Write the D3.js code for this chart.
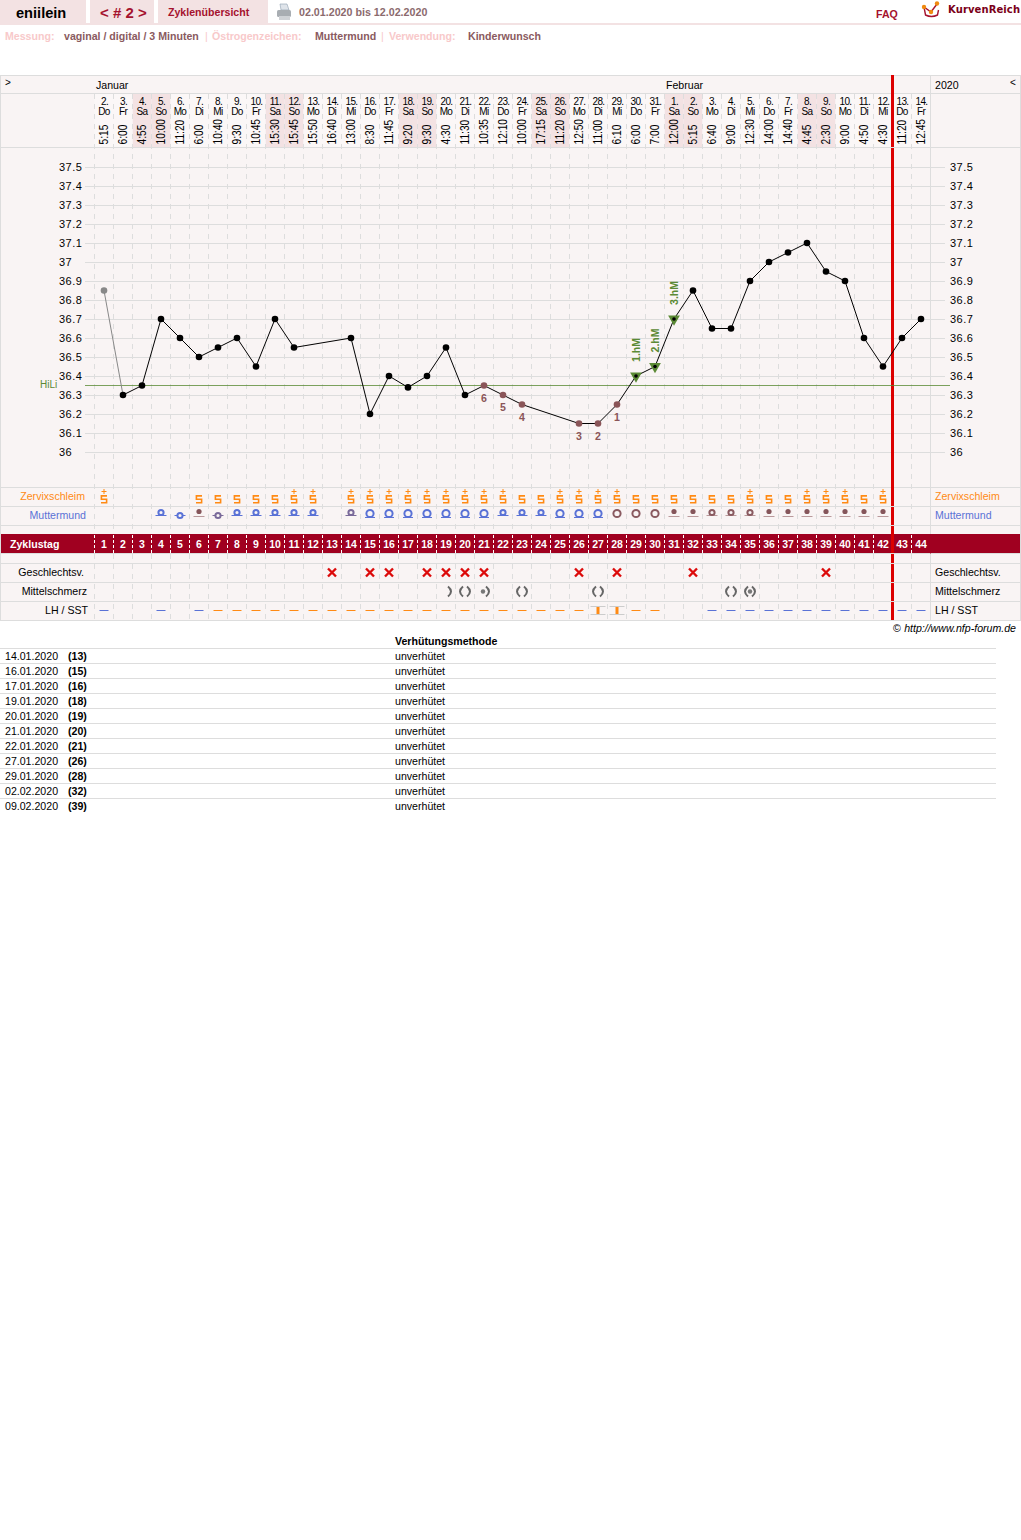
<!DOCTYPE html>
<html><head><meta charset="utf-8">
<script src="https://cdn.jsdelivr.net/npm/d3@7/dist/d3.min.js"></script>
<style>html,body{margin:0;padding:0;background:#fff}svg{display:block}text{font-family:"Liberation Sans",Arial,sans-serif}</style>
</head><body><div id="c"></div>
<script>
const cycleDays=d3.range(1,45);
const dateLabels=["2.","3.","4.","5.","6.","7.","8.","9.","10.","11.","12.","13.","14.","15.","16.","17.","18.","19.","20.","21.","22.","23.","24.","25.","26.","27.","28.","29.","30.","31.","1.","2.","3.","4.","5.","6.","7.","8.","9.","10.","11.","12.","13.","14."];
const weekdays=["Do","Fr","Sa","So","Mo","Di","Mi","Do","Fr","Sa","So","Mo","Di","Mi","Do","Fr","Sa","So","Mo","Di","Mi","Do","Fr","Sa","So","Mo","Di","Mi","Do","Fr","Sa","So","Mo","Di","Mi","Do","Fr","Sa","So","Mo","Di","Mi","Do","Fr"];
const times=["5:15","6:00","4:55","10:00","11:20","6:00","10:40","9:30","10:45","15:30","15:45","15:50","16:40","13:00","8:30","11:45","9:20","9:30","4:30","11:30","10:35","12:10","10:00","17:15","11:20","12:50","11:00","6:10","6:00","7:00","12:00","5:15","6:40","9:00","12:30","14:00","14:40","4:45","2:30","9:00","4:50","4:30","11:20","12:45"];
const temps=[36.85,36.3,36.35,36.7,36.6,36.5,36.55,36.6,36.45,36.7,36.55,null,null,36.6,36.2,36.4,36.34,36.4,36.55,36.3,36.35,36.3,36.25,null,null,36.15,36.15,36.25,36.4,36.45,36.7,36.85,36.65,36.65,36.9,37,37.05,37.1,36.95,36.9,36.6,36.45,36.6,36.7];
const tempTicks=[36,36.1,36.2,36.3,36.4,36.5,36.6,36.7,36.8,36.9,37,37.1,37.2,37.3,37.4,37.5];
const coverLine=36.35;
const lowDays=[[28,"1"],[27,"2"],[26,"3"],[23,"4"],[22,"5"],[21,"6"]];
const riseDays=[[29,"1.hM"],[30,"2.hM"],[31,"3.hM"]];
const mucusPlain=[6,7,8,9,10,23,24,29,30,31,32,33,34,36,37,41];
const mucusPlus=[1,11,12,14,15,16,17,18,19,20,21,22,25,26,27,28,35,38,39,40,42];
const cervixCodes=["","","","sB","cB","d","cM","sB","sB","sB","sB","sB","","sM","lB","lB","lB","lB","lB","lB","lB","sB","sB","sB","lB","lB","lB","lR","lR","lR","d","d","sR","sR","sR","d","d","d","d","d","d","d","",""];
const intercourse=[13,15,16,18,19,20,21,26,28,32,39];
const painCodes={19:"r",20:"b",21:"dr",23:"b",27:"b",34:"b",35:"db"};
const lhBlue=[1,4,6,33,34,35,36,37,38,39,40,41,42,43,44];
const lhOrange=[7,8,9,10,11,12,13,14,15,16,17,18,19,20,21,22,23,24,25,26,29,30];
const sstDays=[27,28];
const tableDates=["14.01.2020","16.01.2020","17.01.2020","19.01.2020","20.01.2020","21.01.2020","22.01.2020","27.01.2020","29.01.2020","02.02.2020","09.02.2020"];
const tableCycleDays=[13,15,16,18,19,20,21,26,28,32,39];
const tableMethod="unverhütet";

const W=1021,H=1540,FS=10.6;
const svg=d3.select("#c").append("svg").attr("width",W).attr("height",H);
const x=d3.scaleLinear().domain([1,44]).range([104,921]);
const y=d3.scaleLinear().domain([36,37.5]).range([452,167]);
const border="#ddd",bg="#f9f4f4",band="#a00020",pink="#f3e2e3";
const red="#a5122e",brown="#8a5a60",lite="#f8c9ca",orange="#ff8a14",blue="#5a72d6",green="#5b8a35",crim="#dc0a0a";
function T(g,s,xx,yy,o={}){return g.append("text").attr("x",xx).attr("y",yy).text(s)
 .attr("font-size",o.size||FS).attr("font-weight",o.bold?"bold":null).attr("fill",o.fill||"#000")
 .attr("text-anchor",o.anchor||"start").attr("font-style",o.italic?"italic":null).attr("letter-spacing",o.ls||null);}

/* page header */
const hd=svg.append("g");
hd.append("rect").attr("x",0).attr("y",0).attr("width",86).attr("height",23).attr("fill",pink);
hd.append("rect").attr("x",90).attr("y",0).attr("width",64).attr("height",23).attr("fill",pink);
hd.append("rect").attr("x",158).attr("y",0).attr("width",110).attr("height",23).attr("fill",pink);
hd.append("rect").attr("x",0).attr("y",23).attr("width",W).attr("height",2).attr("fill",pink);
T(hd,"eniilein",16,18,{size:14.6,bold:true});
T(hd,"< # 2 >",100,18,{size:15,bold:true,fill:red});
T(hd,"Zyklenübersicht",168,16,{bold:true,fill:red});
T(hd,"02.01.2020 bis 12.02.2020",299,16,{size:10.7,bold:true,fill:"#8b6a6e"});
T(hd,"FAQ",876,18,{bold:true,fill:red});
T(hd,"KurvenReich",948,13,{size:10,bold:true,fill:"#7a0018"}).style("font-family","'DejaVu Sans',sans-serif").attr("textLength",72);
const pr=hd.append("g").attr("transform","translate(277,4)");
pr.append("path").attr("d","M3 0h7l2 6h-8z").attr("fill","#dfe4ea").attr("stroke","#8fa0b0").attr("stroke-width",.6);
pr.append("rect").attr("x",0).attr("y",6).attr("width",14).attr("height",7).attr("rx",1.5).attr("fill","#a8adb2");
pr.append("rect").attr("x",2).attr("y",12).attr("width",11).attr("height",4).attr("fill","#cfd2d6");
const lg=hd.append("g").attr("transform","translate(921,0)");
lg.append("path").attr("d","M3 7l1.5 8q6 3 12 0l1-5").attr("fill","none").attr("stroke","#a5122e").attr("stroke-width",1.4);
lg.append("path").attr("d","M3 7l7 5 6-8").attr("fill","none").attr("stroke","#a5122e").attr("stroke-width",1.4);
lg.append("circle").attr("cx",3).attr("cy",7).attr("r",2.2).attr("fill","#f08a10");
lg.append("circle").attr("cx",10).attr("cy",12).attr("r",2.2).attr("fill","#f08a10");
lg.append("circle").attr("cx",16).attr("cy",3.5).attr("r",2.2).attr("fill","#f08a10");

T(hd,"Messung:",5,40,{bold:true,fill:lite});
T(hd,"vaginal / digital / 3 Minuten",64,40,{bold:true,fill:brown});
T(hd,"|",205,40,{fill:lite});
T(hd,"Östrogenzeichen:",212,40,{bold:true,fill:lite});
T(hd,"Muttermund",315,40,{bold:true,fill:brown});
T(hd,"|",381,40,{fill:lite});
T(hd,"Verwendung:",389,40,{bold:true,fill:lite});
T(hd,"Kinderwunsch",468,40,{bold:true,fill:brown});

/* chart background */
const bgG=svg.append("g");
bgG.append("rect").attr("x",0.5).attr("y",75.5).attr("width",W-1).attr("height",545).attr("fill",bg).attr("stroke",border);
bgG.selectAll("rect.we").data(cycleDays.filter((d,i)=>weekdays[i]==="Sa"||weekdays[i]==="So")).join("rect")
 .attr("class","we").attr("x",d=>x(d)-9.5).attr("y",94).attr("width",x(2)-x(1)).attr("height",53).attr("fill",pink);
bgG.selectAll("rect.wd").data(cycleDays.filter((d,i)=>weekdays[i]!=="Sa"&&weekdays[i]!=="So")).join("rect")
 .attr("class","wd").attr("x",d=>x(d)-9.5).attr("y",94).attr("width",x(2)-x(1)).attr("height",53).attr("fill","#fbf7f7");

/* vertical dashed day lines */
const vs=d3.range(0,44);
bgG.selectAll("line.vd").data(vs).join("line").attr("class","vd")
 .attr("x1",d=>x(d+1)-9.5).attr("x2",d=>x(d+1)-9.5).attr("y1",94).attr("y2",620)
 .attr("stroke",border).attr("stroke-dasharray","5,5");

/* temperature axes with gridlines */
const axL=svg.append("g").attr("transform","translate(85,0)")
 .call(d3.axisLeft(y).tickValues(tempTicks).tickFormat(d3.format("~g")).tickSize(-860));
axL.select(".domain").remove();
axL.selectAll("line").attr("stroke",border);
axL.selectAll("text").attr("text-anchor","start").attr("x",-26).attr("font-size",11).attr("letter-spacing","0.5").attr("fill","#000").style("font-family",'"Liberation Sans",Arial,sans-serif');
const axR=svg.append("g").attr("transform","translate(950,0)")
 .call(d3.axisRight(y).tickValues(tempTicks).tickFormat(d3.format("~g")).tickSize(0).tickPadding(0));
axR.select(".domain").remove();
axR.selectAll("text").attr("font-size",11).attr("letter-spacing","0.5").attr("fill","#000").style("font-family",'"Liberation Sans",Arial,sans-serif');

/* cycle-day band */
const bd=svg.append("g");
bd.append("rect").attr("x",1).attr("y",534).attr("width",W-2).attr("height",19.5).attr("fill",band);
bd.selectAll("line").data(vs).join("line").attr("x1",d=>x(d+1)-9.5).attr("x2",d=>x(d+1)-9.5).attr("y1",534).attr("y2",553)
 .attr("stroke","#fff").attr("stroke-dasharray","3,2").attr("stroke-dashoffset",-1);
T(bd,"Zyklustag",10,548,{bold:true,fill:"#fff"});
bd.selectAll("text.n").data(cycleDays).join("text").attr("class","n").attr("x",d=>x(d)).attr("y",548).attr("text-anchor","middle")
 .attr("font-size",10.5).attr("font-weight","bold").attr("fill","#fff").text(d=>d);

/* today marker */
svg.append("line").attr("x1",x(43)-9.5).attr("x2",x(43)-9.5).attr("y1",75).attr("y2",620.5).attr("stroke","#dc0000").attr("stroke-width",3);

/* row borders */
const rowY=[75.5,93.5,147.5,487.5,506.5,525.5,553.5,563.5,582.5,601.5,620.5];
svg.append("g").selectAll("line").data(rowY).join("line").attr("x1",0).attr("x2",W).attr("y1",d=>d).attr("y2",d=>d).attr("stroke",border);
svg.append("line").attr("x1",930.5).attr("x2",930.5).attr("y1",75).attr("y2",621).attr("stroke",border);
svg.append("line").attr("x1",930.5).attr("x2",930.5).attr("y1",534).attr("y2",553.5).attr("stroke",band);
svg.append("rect").attr("x",x(43)-11).attr("y",75).attr("width",3).attr("height",19).attr("fill","#dc0000");
svg.append("rect").attr("x",x(43)-11).attr("y",148).attr("width",3).attr("height",340).attr("fill","#dc0000");

/* header cells text */
const hc=svg.append("g");
T(hc,">",5,86,{size:10});
T(hc,"Januar",96,89);
T(hc,"Februar",666,89);
T(hc,"2020",935,89);
T(hc,"<",1010,86,{size:10});
hc.selectAll("text.dl").data(cycleDays).join("text").attr("class","dl").attr("x",d=>x(d)+.5).attr("y",105).attr("text-anchor","middle")
 .attr("font-size",10).attr("letter-spacing","-0.6").text((d,i)=>dateLabels[i]);
hc.selectAll("text.wk").data(cycleDays).join("text").attr("class","wk").attr("x",d=>x(d)).attr("y",115).attr("text-anchor","middle")
 .attr("font-size",10).attr("letter-spacing","-0.6").text((d,i)=>weekdays[i]);
hc.selectAll("text.tm").data(cycleDays).join("text").attr("class","tm").attr("transform",d=>`translate(${x(d)+4},144.5) rotate(-90) scale(0.85,1)`)
 .attr("font-size",12).text((d,i)=>times[i]);

/* cover line */
const pl=svg.append("g");
pl.append("line").attr("x1",85).attr("x2",950).attr("y1",Math.round(y(coverLine))+.5).attr("y2",Math.round(y(coverLine))+.5).attr("stroke",green).attr("stroke-width",.8);
T(pl,"HiLi",40,388,{size:10,fill:green});

/* curve */
const pts=cycleDays.map((d,i)=>({d,t:temps[i]})).filter(p=>p.t!==null);
const lineGen=d3.line().x(p=>x(p.d)).y(p=>y(p.t));
pl.append("path").attr("d",lineGen(pts.slice(0,2))).attr("fill","none").attr("stroke","#888").attr("stroke-width",1);
pl.append("path").attr("d",lineGen(pts.slice(1))).attr("fill","none").attr("stroke","#000").attr("stroke-width",1);
const tempOf=d=>temps[d-1];
const lowSet=lowDays.map(a=>a[0]),riseSet=riseDays.map(a=>a[0]);
pl.selectAll("path.tri").data(riseDays).join("path").attr("class","tri")
 .attr("d",d3.symbol(d3.symbolTriangle,60)).attr("transform",p=>`translate(${x(p[0])},${y(tempOf(p[0]))}) rotate(180)`).attr("fill",green);
pl.selectAll("circle.pt").data(pts).join("circle").attr("class","pt").attr("cx",p=>x(p.d)).attr("cy",p=>y(p.t))
 .attr("r",p=>riseSet.includes(p.d)?1.8:3.3)
 .attr("fill",p=>p.d===1?"#888":lowSet.includes(p.d)?"#8a5558":"#000");
pl.selectAll("text.low").data(lowDays).join("text").attr("class","low").attr("x",p=>x(p[0])).attr("y",p=>y(tempOf(p[0]))+16)
 .attr("text-anchor","middle").attr("font-size",FS).attr("font-weight","bold").attr("fill","#8a5558").text(p=>p[1]);
pl.selectAll("text.rise").data(riseDays).join("text").attr("class","rise").attr("transform",p=>`translate(${x(p[0])+4},${y(tempOf(p[0]))-14}) rotate(-90)`)
 .attr("font-size",FS).attr("font-weight","bold").attr("fill",green).text(p=>p[1]);

/* row labels */
const lb=svg.append("g");
T(lb,"Zervixschleim",85,500,{anchor:"end",fill:orange});
T(lb,"Muttermund",86,519,{anchor:"end",fill:blue});
T(lb,"Geschlechtsv.",84,576,{anchor:"end"});
T(lb,"Mittelschmerz",87,595,{anchor:"end"});
T(lb,"LH / SST",88,614,{anchor:"end"});
T(lb,"Zervixschleim",935,500,{fill:orange});
T(lb,"Muttermund",935,519,{fill:blue});
T(lb,"Geschlechtsv.",935,576);
T(lb,"Mittelschmerz",935,595);
T(lb,"LH / SST",935,614);

/* mucus */
const sPath="M3 -3.4H-2.6V-0.1H2.6V3.4H-3";
const mu=svg.append("g");
mu.selectAll("path.s").data(mucusPlain.concat(mucusPlus)).join("path").attr("class","s").attr("transform",d=>`translate(${x(d)},499.3)`)
 .attr("d",sPath).attr("fill","none").attr("stroke",orange).attr("stroke-width",1.6);
mu.selectAll("path.p").data(mucusPlus).join("path").attr("class","p").attr("transform",d=>`translate(${x(d)},491.5)`)
 .attr("d","M-2.5 0H2.5M0 -2.5V2.5").attr("fill","none").attr("stroke",orange).attr("stroke-width",1);

/* cervix */
const colors={B:"#5a72d6",M:"#7a6a9a",R:"#8a5a60"};
const cv=svg.append("g").selectAll("g").data(cycleDays.map((d,i)=>({d,c:cervixCodes[i]})).filter(e=>e.c)).join("g").attr("transform",e=>`translate(${x(e.d)},0)`);
cv.each(function(e){
 const g=d3.select(this),k=e.c[0],col=colors[e.c[1]]||"#8a5a60";
 if(k==="d"){g.append("circle").attr("cy",511.5).attr("r",2.6).attr("fill","#85555a");
  g.append("line").attr("x1",-5.5).attr("x2",5.5).attr("y1",516.5).attr("y2",516.5).attr("stroke","#b9999b");}
 if(k==="s"){g.append("line").attr("x1",-5.5).attr("x2",5.5).attr("y1",515.5).attr("y2",515.5).attr("stroke",e.c[1]==="R"?"#b9999b":col);
  g.append("circle").attr("cy",512.5).attr("r",2.6).attr("fill",bg).attr("stroke",col).attr("stroke-width",2);}
 if(k==="c"){g.append("line").attr("x1",-5.5).attr("x2",5.5).attr("y1",515.5).attr("y2",515.5).attr("stroke",col);
  g.append("circle").attr("cy",515.5).attr("r",2.6).attr("fill",bg).attr("stroke",col).attr("stroke-width",2);}
 if(k==="l"){if(e.c[1]==="B")g.append("line").attr("x1",-5).attr("x2",5).attr("y1",517.5).attr("y2",517.5).attr("stroke",col);
  g.append("circle").attr("cy",513.5).attr("r",3.6).attr("fill",bg).attr("stroke",col).attr("stroke-width",2);}
});

/* intercourse */
svg.append("g").selectAll("path").data(intercourse).join("path").attr("transform",d=>`translate(${x(d)},572.5)`)
 .attr("d","M-4 -4L4 4M4 -4L-4 4").attr("fill","none").attr("stroke",crim).attr("stroke-width",2.4);

/* pain */
const pn=svg.append("g").selectAll("g").data(Object.entries(painCodes)).join("g").attr("transform",e=>`translate(${x(+e[0])},591.5)`);
const rightP="M2 -5Q8 0 2 5",leftP="M-2 -5Q-8 0 -2 5";
pn.each(function(e){const g=d3.select(this),c=e[1];
 g.append("path").attr("d",rightP).attr("fill","none").attr("stroke","#666").attr("stroke-width",2);
 if(c.includes("b"))g.append("path").attr("d",leftP).attr("fill","none").attr("stroke","#666").attr("stroke-width",2);
 if(c.includes("d"))g.append("circle").attr("cx",c==="dr"?-1:0).attr("r",2.2).attr("fill","#777");
});

/* LH */
const lh=svg.append("g");
lh.selectAll("line.b").data(lhBlue).join("line").attr("class","b").attr("x1",d=>x(d)-4.5).attr("x2",d=>x(d)+4.5).attr("y1",610.5).attr("y2",610.5).attr("stroke",blue);
lh.selectAll("line.o").data(lhOrange).join("line").attr("class","o").attr("x1",d=>x(d)-4.5).attr("x2",d=>x(d)+4.5).attr("y1",610.5).attr("y2",610.5).attr("stroke",orange);
const ss=lh.selectAll("g").data(sstDays).join("g").attr("transform",d=>`translate(${x(d)},0)`);
ss.append("path").attr("d","M-7.5 606.5H7.5M-7.5 614.5H7.5").attr("stroke","#ccc").attr("fill","none");
ss.append("rect").attr("x",-1.5).attr("y",607).attr("width",3).attr("height",7).attr("fill",orange);

T(svg,"©",893,632,{size:10.6});
T(svg,"http://www.nfp-forum.de",1016,632,{anchor:"end",italic:true,size:10.6});

/* table */
const tb=svg.append("g");
T(tb,"Verhütungsmethode",395,645,{bold:true});
tb.selectAll("line").data(tableDates).join("line").attr("x1",0).attr("x2",996).attr("y1",(d,i)=>648.5+15*i).attr("y2",(d,i)=>648.5+15*i).attr("stroke",border);
tb.selectAll("text.a").data(tableDates).join("text").attr("class","a").attr("x",5).attr("y",(d,i)=>660+15*i).attr("font-size",FS).text(d=>d);
tb.selectAll("text.b").data(tableCycleDays).join("text").attr("class","b").attr("x",68).attr("y",(d,i)=>660+15*i).attr("font-size",FS).attr("font-weight","bold").text(d=>`(${d})`);
tb.selectAll("text.c").data(tableDates).join("text").attr("class","c").attr("x",395).attr("y",(d,i)=>660+15*i).attr("font-size",FS).text(tableMethod);
</script></body></html>
